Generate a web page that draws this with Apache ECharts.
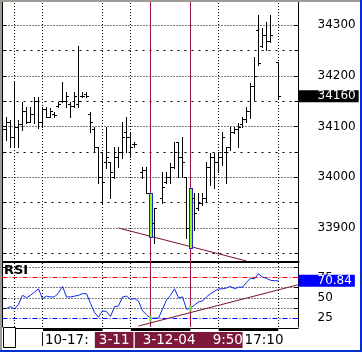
<!DOCTYPE html>
<html><head><meta charset="utf-8">
<script src="https://cdn.jsdelivr.net/npm/echarts@6/dist/echarts.min.js"></script>
<style>html,body{margin:0;padding:0;background:#fff;overflow:hidden}#c{width:362px;height:352px}</style>
</head><body><div id="c"></div>
<script>
// ---- data ----
const categories = Array.from({length: 75}, (_, i) => String(i));
const opens  = [34100,34095,34110,34080,34100,34105,34130,34110,34125,34150,34110,34135,34120,34125,34140,34150,34150,34145,34140,34145,34160,34165,34125,34095,34060,34000,34030,34030,34000,34040,34050,34090,34080,34065,null,34010,34015,33969,33910,null,33960,33990,34000,34020,34070,34040,34000,33900,33960,33940,33950,33960,34020,34040,34030,34040,34050,34060,34090,34095,34105,34115,34130,34180,34290,34260,34280,34270,null,34228];
const highs  = [34117,34119,34113,34190,34113,34149,34139,34139,34159,34159,34139,34139,34137,34129,34149,34188,34169,34149,34169,34260,34169,34169,34129,34100,34060,34050,34100,34030,34060,34060,34109,34119,34090,34070,null,34020,34020,33969,33939,null,34011,34011,34028,34070,34070,34080,34001,33979,33969,33969,33969,34030,34048,34048,34050,34090,34060,34100,34100,34107,34119,34139,34186,34238,34321,34295,34307,34321,null,34228];
const lows   = [34084,34074,34060,34060,34060,34094,34107,34109,34107,34097,34099,34119,34119,34119,34139,34149,34139,34119,34139,34139,34159,34159,34090,34050,33989,33949,34018,33959,33999,34020,34038,34050,34040,34060,null,33999,33969,33882,33870,null,33949,33989,33989,34018,34001,34001,33880,33860,33896,33935,33945,33951,33985,33979,34011,34024,33989,34054,34088,34060,34100,34109,34117,34153,34222,34258,34252,34268,null,34157];
const closes = [34095,34110,34080,34100,34105,34130,34110,34125,34150,34110,34135,34120,34130,34124,34145,34150,34160,34140,34160,34150,34160,34160,34110,34060,34000,33990,34040,34010,34040,34050,34080,34080,34060,34065,null,34015,33970,33900,33939,null,33980,34000,34020,34050,34040,34030,33900,33960,33930,33950,33960,34020,34040,34030,34040,34080,34060,34090,34095,34100,34115,34130,34180,34200,34225,34280,34270,34280,null,34160];
const rsi = [null,37,39,36,42,53,50,53,57,61,49,52,51,51,56,64,51,51,52,53,55,55,43,32,26,34,33,27,39,40,51,52,48,49,46,34,29,24.6,25,25,36,47,53,61,50,51,36,37,41,45,46,51,55,58,61,61,62,64,61,63,63,69,74,73.5,79.5,75.5,74,71.5,71,70.84];
const highlightBars = [37, 47];           // marked bars (green)
const signalLines = [37, 47];             // red vertical markers
const sessionBreaks = [3, 10, 25, 32, 47, 54, 69];
const sessions = [[3,10,0],[10,25,1],[25,32,0],[32,47,1],[47,54,0],[54,69,1],[69,74,0]];
const priceTrend = [[29, 33900], [61, 33835]];
const rsiTrend = [[34, 15.2], [74, 66.1]];
const priceTicks = [33900, 34000, 34100, 34200, 34300];
const priceGrid = [33850, 33900, 33950, 34000, 34050, 34100, 34150, 34200, 34250, 34300];
const rsiTicks = [25, 50, 75];
const rsiGrid = [37.5, 50, 62.5, 87.5];
const timeLabelIdx = [10, 23, 33, 60];
const timeLabelText = ['10-17:', '3-11', '3-12-04    9:50', '17:10'];
const timeLabelStyle = ['w', 'm1', 'm2', 'w'];

// ---- build ----
const FONT = 'DejaVu Sans';
const ohlcData = [];
opens.forEach((o, i) => { if (o !== null) ohlcData.push([i, o, highs[i], lows[i], closes[i]]); });
const lastIdx = closes.length - 1;
const lastClose = closes[lastIdx];
const lastRsi = rsi[rsi.length - 1];

function crisp(v) { return Math.round(v) + 0.5; }

function renderOHLC(params, api) {
  const i = api.value(0);
  const pO = api.coord([i, api.value(1)]);
  const pH = api.coord([i, api.value(2)]);
  const pL = api.coord([i, api.value(3)]);
  const pC = api.coord([i, api.value(4)]);
  const n = Math.floor(pH[0]);
  const x = n + 0.5;
  if (highlightBars.indexOf(i) >= 0) {
    const yt = Math.round(pH[1]), yb = Math.round(pL[1]) + 1;
    return {type: 'group', children: [
      {type: 'rect', shape: {x: n - 1, y: yt, width: 4, height: yb - yt}, style: {fill: '#2020d8'}},
      {type: 'rect', shape: {x: n, y: yt + 1, width: 2, height: yb - yt - 2}, style: {fill: '#80ff20'}}
    ]};
  }
  const yo = crisp(pO[1]), yc = crisp(pC[1]);
  return {type: 'group', children: [
    {type: 'line', shape: {x1: x, y1: Math.round(pH[1]), x2: x, y2: Math.round(pL[1]) + 1}, style: {stroke: '#000', lineWidth: 1}},
    {type: 'line', shape: {x1: x - 2.5, y1: yo, x2: x, y2: yo}, style: {stroke: '#000', lineWidth: 1}},
    {type: 'line', shape: {x1: x, y1: yc, x2: x + 2.5, y2: yc}, style: {stroke: '#000', lineWidth: 1}}
  ]};
}

function renderSessions(params, api) {
  const a = api.coord([api.value(0), 0]);
  const b = api.coord([api.value(1), 0]);
  const kind = api.value(2);
  const top = params.coordSys.y;
  if (kind) return {type: 'rect', shape: {x: a[0], y: top, width: b[0] - a[0], height: 3}, style: {fill: '#000'}};
  return {type: 'group', children: [
    {type: 'rect', shape: {x: a[0], y: top, width: b[0] - a[0], height: 1}, style: {fill: '#000'}},
    {type: 'rect', shape: {x: a[0], y: top + 1, width: b[0] - a[0], height: 2}, style: {fill: '#fff'}}
  ]};
}

const dotted = [1, 2];
const dashed = [2, 5];
const mainLines = priceGrid.map(v => ({yAxis: v, lineStyle: {color: '#000', width: 1, type: (v % 100 === 0) ? dotted : dashed}}))
  .concat(sessionBreaks.map(i => ({xAxis: categories[i], lineStyle: {color: '#000', width: 1, type: dotted}})))
  .concat(signalLines.map(i => ({xAxis: categories[i], lineStyle: {color: '#a0104a', width: 1, type: 'solid'}})));
const rsiLines = rsiGrid.map(v => ({yAxis: v, lineStyle: {color: '#000', width: 1, type: dotted}}))
  .concat([{yAxis: 75, lineStyle: {color: '#ff0000', width: 1, type: [5, 2, 1, 2]}},
           {yAxis: 25, lineStyle: {color: '#0000ff', width: 1, type: [5, 2, 1, 2]}}])
  .concat(sessionBreaks.map(i => ({xAxis: categories[i], lineStyle: {color: '#000', width: 1, type: dotted}})))
  .concat(signalLines.map(i => ({xAxis: categories[i], lineStyle: {color: '#a0104a', width: 1, type: 'solid'}})));

const valueLabel = (text, bg) => ({show: true, position: 'end', distance: 0, formatter: text,
  backgroundColor: bg, color: '#fff', fontFamily: FONT, fontSize: 12, lineHeight: 12, padding: [0, 3, 0, 19]});

const TF = 13.5;
const rich = {
  w:  {color: '#000', backgroundColor: '#fff', fontFamily: FONT, fontSize: TF, lineHeight: 14, padding: [1, 2, 1, 2]},
  m1: {color: '#fff', backgroundColor: '#7e1838', fontFamily: FONT, fontSize: TF, lineHeight: 14, padding: [1, 4, 1, 4]},
  m2: {color: '#fff', backgroundColor: '#7e1838', fontFamily: FONT, fontSize: TF, lineHeight: 14, padding: [1, 3, 1, 8]}
};
const hiddenLine = {width: 0, color: 'rgba(0,0,0,0)'};
const GL = 2.5;

const option = {
  animation: false,
  backgroundColor: '#fff',
  title: {text: 'RSI', left: 4, top: 264, padding: 0, textStyle: {fontFamily: FONT, fontSize: 13, fontWeight: 'bold', color: '#000'}},
  grid: [
    {left: GL, top: 2, width: 296, height: 260},
    {left: GL, top: 262, width: 296, height: 65},
    {left: GL, top: 328, width: 296, height: 4}
  ],
  xAxis: [
    {gridIndex: 0, type: 'category', data: categories, boundaryGap: false,
      axisLine: {show: true, onZero: false, lineStyle: {color: '#000', width: 2}}, axisTick: {show: false}, axisLabel: {show: false}, splitLine: {show: false}},
    {gridIndex: 1, type: 'category', data: categories, boundaryGap: false,
      axisLine: {show: false}, axisTick: {show: false}, axisLabel: {show: false}, splitLine: {show: false}},
    {gridIndex: 2, type: 'category', data: categories, boundaryGap: false,
      axisLine: {show: false},
      axisTick: {show: true, length: 14, interval: (idx) => idx === timeLabelIdx[0], lineStyle: {color: '#000', width: 2}},
      axisLabel: {show: true, interval: 0, margin: 1, align: 'left', rich: rich,
        formatter: (val, idx) => { const k = timeLabelIdx.indexOf(idx); return k < 0 ? '' : '{' + timeLabelStyle[k] + '|' + timeLabelText[k] + '}'; }},
      splitLine: {show: false}}
  ],
  yAxis: [
    {gridIndex: 0, type: 'value', position: 'right', min: 33833, max: 34346,
      axisLine: {show: true, lineStyle: {color: '#000'}},
      axisTick: {show: true, inside: true, length: 4, customValues: priceGrid, lineStyle: {color: '#000'}},
      axisLabel: {show: true, customValues: priceTicks, margin: 19, color: '#000', fontFamily: FONT, fontSize: 12, formatter: v => String(v)},
      splitLine: {show: false}},
    {gridIndex: 0, type: 'value', position: 'left', min: 33833, max: 34346,
      axisLine: {show: true, lineStyle: {color: '#000', width: 1}},
      axisTick: {show: true, inside: true, length: 4, customValues: priceGrid, lineStyle: {color: '#000'}},
      axisLabel: {show: false}, splitLine: {show: false}},
    {gridIndex: 1, type: 'value', position: 'right', min: 14, max: 94,
      axisLine: {show: true, lineStyle: {color: '#000'}},
      axisTick: {show: true, inside: true, length: 4, customValues: [25, 37.5, 50, 62.5, 75, 87.5], lineStyle: {color: '#000'}},
      axisLabel: {show: true, customValues: rsiTicks, margin: 19, color: '#000', fontFamily: FONT, fontSize: 12, formatter: v => String(v)},
      splitLine: {show: false}},
    {gridIndex: 1, type: 'value', position: 'left', min: 14, max: 94,
      axisLine: {show: true, lineStyle: {color: '#000'}},
      axisTick: {show: true, inside: true, length: 4, customValues: [25, 37.5, 50, 62.5, 75, 87.5], lineStyle: {color: '#000'}},
      axisLabel: {show: false}, splitLine: {show: false}},
    {gridIndex: 2, type: 'value', min: 0, max: 1, show: false}
  ],
  series: [
    {type: 'line', name: 'priceTrend', xAxisIndex: 0, yAxisIndex: 0, data: priceTrend, symbol: 'none', z: 2,
      lineStyle: {color: '#7a1030', width: 1}, silent: true,
      markLine: {silent: true, z: 1, symbol: 'none', label: {show: false}, data: mainLines}},
    {type: 'custom', name: 'price', xAxisIndex: 0, yAxisIndex: 0, data: ohlcData, renderItem: renderOHLC, z: 3, clip: true,
      encode: {x: 0, y: [1, 2, 3, 4]}},
    {type: 'line', name: 'lastPrice', xAxisIndex: 0, yAxisIndex: 0, data: [[lastIdx, lastClose]], symbol: 'none', z: 6,
      lineStyle: hiddenLine, silent: true,
      markLine: {silent: true, z: 8, symbol: 'none', data: [{yAxis: lastClose, lineStyle: hiddenLine, label: valueLabel(String(lastClose), '#000')}]}},
    {type: 'line', name: 'rsiTrend', xAxisIndex: 1, yAxisIndex: 2, data: rsiTrend, symbol: 'none', z: 2,
      lineStyle: {color: '#7a1030', width: 1}, silent: true,
      markLine: {silent: true, z: 1, symbol: 'none', label: {show: false}, data: rsiLines}},
    {type: 'line', name: 'RSI', xAxisIndex: 1, yAxisIndex: 2, data: rsi, symbol: 'none', z: 4,
      lineStyle: {color: '#0a28f0', width: 1}, silent: true,
      markLine: {silent: true, z: 8, symbol: 'none', data: [
        {yAxis: lastRsi, lineStyle: hiddenLine, label: valueLabel(lastRsi.toFixed(2), '#0000ff')}
      ]}},
    {type: 'scatter', name: 'rsiMark', xAxisIndex: 1, yAxisIndex: 2, z: 5, silent: true,
      data: highlightBars.map(i => [i, rsi[i]]), symbol: 'rect', symbolSize: [3, 6], itemStyle: {color: '#66ff1a'}},
    {type: 'custom', name: 'sessions', xAxisIndex: 2, yAxisIndex: 4, data: sessions, renderItem: renderSessions, z: 2, silent: true,
      encode: {x: [0, 1]}}
  ],
  graphic: [
    {type: 'rect', shape: {x: 0, y: 0, width: 362, height: 2}, style: {fill: '#a09a94'}, z: 100},
    {type: 'rect', shape: {x: 0, y: 0, width: 2, height: 352}, style: {fill: '#a09a94'}, z: 100},
    {type: 'rect', shape: {x: 360, y: 0, width: 2, height: 352}, style: {fill: '#0030d0'}, z: 100},
    {type: 'rect', shape: {x: 0, y: 350, width: 362, height: 2}, style: {fill: '#0030d0'}, z: 100},
    {type: 'rect', shape: {x: 3.5, y: 327.5, width: 12, height: 20}, style: {fill: '#fff', stroke: '#000', lineWidth: 1}, z: 100}
  ]
};
const chart = echarts.init(document.getElementById('c'));
chart.setOption(option);
</script>
</body></html>
